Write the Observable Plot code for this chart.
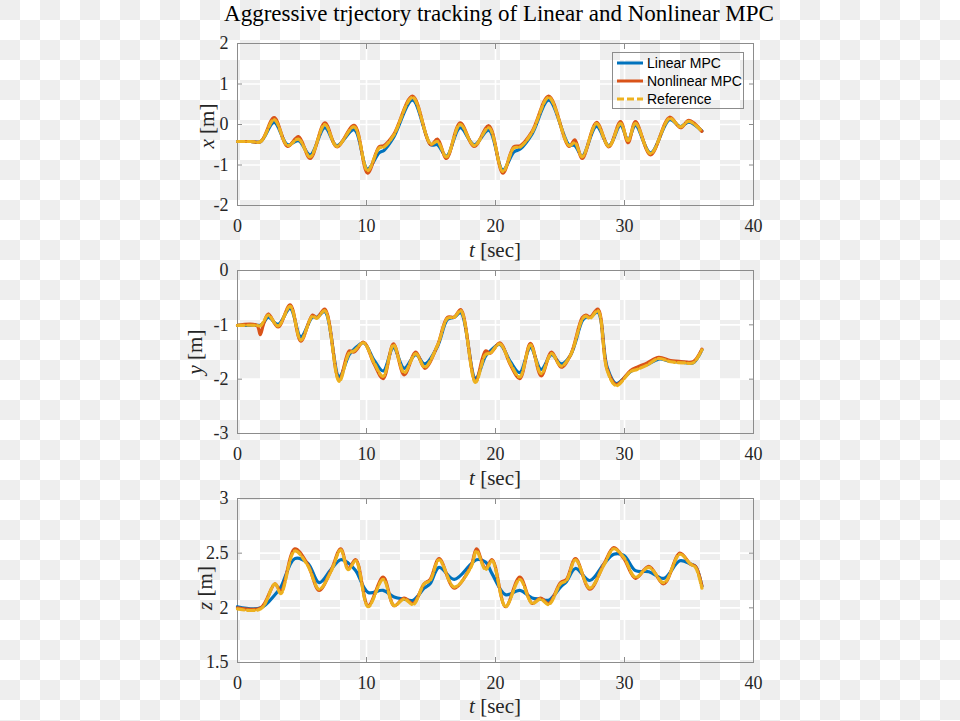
<!DOCTYPE html>
<html><head><meta charset="utf-8">
<script src="https://cdn.jsdelivr.net/npm/d3@7"></script>
<script src="https://cdn.jsdelivr.net/npm/@observablehq/plot@0.6"></script>
<style>
html,body{margin:0;padding:0;}
body{width:960px;height:721px;position:relative;overflow:hidden;
 background:conic-gradient(#fff 0 25%,#eeeeee 0 50%,#fff 0 75%,#eeeeee 0) 0 0/40px 40px;
 font-family:"Liberation Serif",serif;color:#262626;}
.panel{position:absolute;left:0;}
.title{position:absolute;left:0;width:998px;text-align:center;top:2px;font-size:23px;line-height:23px;color:#000;white-space:nowrap;}
.xlab{position:absolute;left:0;width:990px;text-align:center;font-size:21px;white-space:nowrap;}
.ylab{position:absolute;font-size:21px;white-space:nowrap;transform:translate(-50%,-50%) rotate(-90deg);}
.legend{position:absolute;left:612px;top:52px;width:132px;height:57px;box-sizing:border-box;border:1px solid #8c8c8c;
 font-family:"Liberation Sans",Arial,sans-serif;font-size:14px;color:#000;}
.legend .row{position:absolute;left:3px;height:18px;display:flex;align-items:center;}
.legend svg{width:28px;height:8px;margin-right:3px;}
</style>
</head><body>
<div class="title">Aggressive trjectory tracking of Linear and Nonlinear MPC</div>
<div id="p1" class="panel" style="top:0px"></div>
<div id="p2" class="panel" style="top:227px"></div>
<div id="p3" class="panel" style="top:455px"></div>
<div class="xlab" style="top:238px"><i>t</i> [sec]</div>
<div class="xlab" style="top:466px"><i>t</i> [sec]</div>
<div class="xlab" style="top:694px"><i>t</i> [sec]</div>
<div class="ylab" style="left:207px;top:126px"><i>x</i> [m]</div>
<div class="ylab" style="left:195px;top:352px"><i>y</i> [m]</div>
<div class="ylab" style="left:205px;top:588px"><i>z</i> [m]</div>
<div class="legend" id="legend"></div>
<script>
// ---------- data ----------
const seriesNames = ["Linear MPC", "Nonlinear MPC", "Reference"];
const seriesColors = ["#0072BD", "#D95319", "#EDB120"];
const xTicks = [0, 10, 20, 30, 40];

const tX = [0, 1.0, 1.8, 2.84, 3.88, 4.73, 5.63, 6.77, 7.7, 9.04, 10.08, 10.98, 11.35, 12.1, 13.57, 14.98, 15.5, 16.2, 17.26, 18.35, 19.48, 20.57, 21.42, 21.94, 22.84, 24.13, 25.7, 26.15, 26.72, 27.83, 28.79, 29.69, 30.28, 30.85, 32.02, 33.5, 34.34, 34.99, 36.0];
const refX = [-0.42, -0.42, -0.42, 0.12, -0.52, -0.36, -0.8, 0.0, -0.54, -0.06, -1.14, -0.58, -0.56, -0.27, 0.67, -0.48, -0.42, -0.8, 0.0, -0.52, -0.08, -1.16, -0.58, -0.55, -0.19, 0.67, -0.52, -0.45, -0.8, 0.02, -0.54, 0.03, -0.4, 0.03, -0.72, 0.15, -0.06, 0.08, -0.17];
const nlX = [-0.42, -0.42, -0.42, 0.17, -0.54, -0.3, -0.84, 0.04, -0.55, -0.02, -1.2, -0.55, -0.52, -0.25, 0.7, -0.5, -0.36, -0.84, 0.04, -0.54, -0.03, -1.2, -0.55, -0.52, -0.17, 0.7, -0.54, -0.38, -0.84, 0.05, -0.55, 0.07, -0.45, 0.07, -0.75, 0.18, -0.08, 0.1, -0.17];
const linX = [-0.42, -0.42, -0.42, 0.05, -0.5, -0.4, -0.75, -0.08, -0.52, -0.13, -1.1, -0.7, -0.64, -0.32, 0.6, -0.5, -0.5, -0.78, -0.08, -0.5, -0.14, -1.12, -0.68, -0.6, -0.23, 0.6, -0.5, -0.52, -0.78, -0.05, -0.52, -0.02, -0.38, -0.02, -0.7, 0.12, -0.05, 0.06, -0.16];
const yTicksX = [-2, -1, 0, 1, 2];

const tY = [0, 1.5, 1.76, 2.0, 2.38, 3.15, 4.08, 4.91, 5.81, 6.15, 6.77, 7.88, 8.66, 9.04, 9.77, 10.59, 11.29, 12.09, 12.92, 13.82, 14.52, 15.5, 16.28, 16.8, 17.31, 18.45, 19.22, 19.6, 20.33, 21.16, 21.88, 22.71, 23.54, 24.34, 25.09, 25.81, 26.72, 27.0, 27.33, 27.93, 28.66, 29.36, 30.47, 30.98, 31.76, 32.66, 33.57, 34.6, 35.32, 36.0];
const refY = [-1.01, -1.01, -1.02, -0.95, -0.82, -1.02, -0.66, -1.28, -0.84, -0.88, -0.74, -2.04, -1.52, -1.48, -1.33, -1.7, -1.95, -1.37, -1.88, -1.53, -1.78, -1.38, -0.88, -0.86, -0.74, -2.06, -1.55, -1.52, -1.35, -1.72, -1.96, -1.37, -1.9, -1.53, -1.76, -1.56, -0.9, -0.84, -0.88, -0.74, -1.84, -2.12, -1.86, -1.82, -1.74, -1.62, -1.68, -1.7, -1.7, -1.46];
const nlY = [-1.01, -1.01, -1.18, -1.0, -0.8, -1.04, -0.63, -1.3, -0.82, -0.87, -0.71, -2.02, -1.48, -1.5, -1.32, -1.72, -1.99, -1.35, -1.92, -1.5, -1.8, -1.38, -0.86, -0.86, -0.72, -2.04, -1.48, -1.52, -1.33, -1.74, -1.99, -1.34, -1.94, -1.5, -1.78, -1.56, -0.87, -0.82, -0.86, -0.71, -1.82, -2.1, -1.84, -1.78, -1.7, -1.6, -1.66, -1.68, -1.68, -1.45];
const linY = [-1.01, -1.01, -1.01, -0.97, -0.86, -0.99, -0.7, -1.22, -0.86, -0.86, -0.76, -1.95, -1.55, -1.45, -1.33, -1.65, -1.85, -1.42, -1.8, -1.55, -1.72, -1.4, -0.9, -0.86, -0.78, -1.98, -1.58, -1.48, -1.36, -1.68, -1.88, -1.42, -1.82, -1.55, -1.72, -1.56, -0.93, -0.86, -0.86, -0.77, -1.78, -2.08, -1.86, -1.8, -1.73, -1.63, -1.67, -1.69, -1.7, -1.46];
const yTicksY = [-3, -2, -1, 0];

const tZ = [0, 1.8, 2.9, 3.36, 4.44, 5.43, 6.33, 7.24, 8.0, 8.58, 9.17, 10.13, 11.29, 12.14, 12.92, 13.62, 14.47, 14.93, 15.63, 16.8, 18.09, 18.53, 19.22, 19.74, 20.78, 21.88, 22.84, 23.49, 24.13, 25.04, 25.5, 26.2, 27.31, 28.4, 29.17, 29.95, 30.85, 31.89, 33.05, 34.29, 35.12, 35.5, 36.0];
const refZ = [1.99, 1.99, 2.22, 2.13, 2.52, 2.39, 2.17, 2.33, 2.53, 2.35, 2.43, 2.01, 2.26, 2.02, 2.08, 2.03, 2.22, 2.25, 2.44, 2.19, 2.37, 2.52, 2.35, 2.43, 2.01, 2.26, 2.04, 2.08, 2.03, 2.22, 2.25, 2.44, 2.18, 2.39, 2.54, 2.46, 2.28, 2.37, 2.23, 2.49, 2.40, 2.37, 2.18];
const nlZ = [2.0, 2.0, 2.22, 2.15, 2.54, 2.40, 2.16, 2.34, 2.54, 2.36, 2.44, 2.02, 2.28, 2.02, 2.09, 2.04, 2.22, 2.26, 2.45, 2.18, 2.38, 2.54, 2.36, 2.44, 2.01, 2.28, 2.04, 2.09, 2.04, 2.23, 2.26, 2.45, 2.17, 2.40, 2.55, 2.45, 2.27, 2.38, 2.22, 2.50, 2.40, 2.38, 2.20];
const linZ = [2.01, 2.0, 2.12, 2.19, 2.45, 2.41, 2.23, 2.35, 2.44, 2.41, 2.34, 2.14, 2.16, 2.10, 2.08, 2.07, 2.18, 2.22, 2.37, 2.26, 2.40, 2.44, 2.42, 2.31, 2.12, 2.16, 2.09, 2.08, 2.07, 2.19, 2.24, 2.36, 2.25, 2.40, 2.49, 2.48, 2.34, 2.33, 2.27, 2.43, 2.40, 2.38, 2.20];
const yTicksZ = [1.5, 2, 2.5, 3];

// ---------- drawing ----------
const rows = (t, v) => t.map((d, i) => ({t: d, v: v[i]}));
const fmt = d => String(d);

function panel(t, lin, nl, ref, ydomain, yticks, marginBottom) {
  const gridYt = yticks.filter(d => d !== ydomain[0] && d !== ydomain[1]);
  const gridXt = xTicks.filter(d => d !== 0 && d !== 40);
  return Plot.plot({
    width: 960, height: 266,
    marginLeft: 237, marginRight: 207, marginTop: 43, marginBottom,
    style: {background: "transparent", fontFamily: "'Liberation Serif', serif", fontSize: "18px", color: "#262626", overflow: "visible"},
    x: {domain: [0, 40]},
    y: {domain: ydomain},
    marks: [
      Plot.gridX(gridXt, {stroke: "#ffffff", strokeOpacity: 1, strokeWidth: 1.6}),
      Plot.gridY(gridYt, {stroke: "#ffffff", strokeOpacity: 1, strokeWidth: 1.6}),
      Plot.axisX(xTicks, {anchor: "bottom", tickSize: 0, tickPadding: 14, tickFormat: fmt, label: null, fill: "#262626"}),
      Plot.axisX(xTicks, {anchor: "bottom", tickSize: -5, tickFormat: () => "", label: null, stroke: "#8c8c8c"}),
      Plot.axisX(xTicks, {anchor: "top", tickSize: -5, tickFormat: () => "", label: null, stroke: "#8c8c8c"}),
      Plot.axisY(yticks, {anchor: "left", tickSize: 0, tickPadding: 9, tickFormat: fmt, label: null, fill: "#262626"}),
      Plot.axisY(yticks, {anchor: "left", tickSize: -5, tickFormat: () => "", label: null, stroke: "#8c8c8c"}),
      Plot.axisY(yticks, {anchor: "right", tickSize: -5, tickFormat: () => "", label: null, stroke: "#8c8c8c"}),
      Plot.frame({stroke: "#8c8c8c", strokeWidth: 1}),
      Plot.line(rows(t, lin), {x: "t", y: "v", stroke: seriesColors[0], strokeWidth: 3.2, curve: "catmull-rom"}),
      Plot.line(rows(t, nl), {x: "t", y: "v", stroke: seriesColors[1], strokeWidth: 3.2, curve: "catmull-rom"}),
      Plot.line(rows(t, ref), {x: "t", y: "v", stroke: seriesColors[2], strokeWidth: 3.2, strokeDasharray: "7,3", curve: "catmull-rom"})
    ]
  });
}

document.getElementById("p1").append(panel(tX, linX, nlX, refX, [-2, 2], yTicksX, 61));
document.getElementById("p2").append(panel(tY, linY, nlY, refY, [-3, 0], yTicksY, 60));
document.getElementById("p3").append(panel(tZ, linZ, nlZ, refZ, [1.5, 3], yTicksZ, 59));

// legend
const lg = document.getElementById("legend");
seriesNames.forEach((name, i) => {
  const row = document.createElement("div");
  row.className = "row";
  row.style.top = (1 + i * 18) + "px";
  const dash = i === 2 ? ' stroke-dasharray="7,3"' : '';
  row.innerHTML = `<svg viewBox="0 0 28 8"><line x1="1" y1="4" x2="27" y2="4" stroke="${seriesColors[i]}" stroke-width="3"${dash}/></svg><span>${name}</span>`;
  lg.append(row);
});
</script>
</body></html>
